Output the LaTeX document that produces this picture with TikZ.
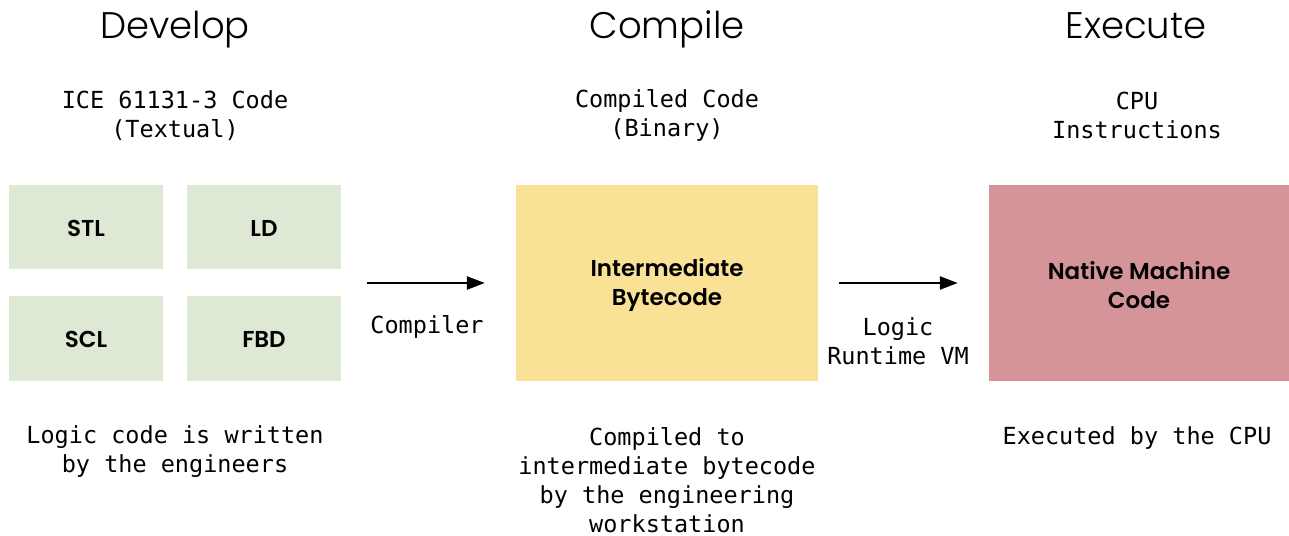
\documentclass[tikz,border=0pt]{standalone}
\usepackage{fontspec}
\setmainfont{Poppins}
\newfontfamily\monof{DejaVu Sans Mono}
\newfontfamily\titlef{Poppins Light}
\newfontfamily\boxf{Poppins SemiBold}
\usetikzlibrary{arrows.meta,fit}
\definecolor{devgreen}{HTML}{DDE8D5}
\definecolor{compyellow}{HTML}{F9E296}
\definecolor{exepink}{HTML}{D49499}
\tikzset{
  x=1pt, y=-1pt,
  title/.style={font=\titlef\fontsize{37}{42}\selectfont, inner sep=0, anchor=base},
  mono/.style={font=\monof\fontsize{23.5}{29}\selectfont, align=center, inner sep=0},
  boxlabel/.style={font=\boxf\fontsize{23}{29}\selectfont, align=center},
  arr/.style={line width=2.5pt, -{Triangle[length=18pt,width=13pt]}},
}
\begin{document}
\begin{tikzpicture}
\useasboundingbox (0,0) rectangle (1289,535);
% titles
\node[title] (t1) at (175,38) {Develop};
\node[title] (t2) at (667,38) {Compile};
\node[title] (t3) at (1136,38) {Execute};
% subtitles
\node[mono] (s1) at (175,115.5) {ICE 61131-3 Code\\(Textual)};
\node[mono] (s2) at (667,115.5) {Compiled Code\\(Binary)};
\node[mono] (s3) at (1137,115.5) {CPU\\Instructions};
% develop boxes
\fill[devgreen] (9,185) rectangle (163,269);
\fill[devgreen] (187,185) rectangle (341,269);
\fill[devgreen] (9,296) rectangle (163,381);
\fill[devgreen] (187,296) rectangle (341,381);
\node[boxlabel] (stl) at (86,228) {STL};
\node[boxlabel] (ld) at (264,228) {LD};
\node[boxlabel] (scl) at (86,339.5) {SCL};
\node[boxlabel] (fbd) at (264,339.5) {FBD};
\coordinate (devtl) at (9,185);
\coordinate (devbr) at (341,381);
\node[fit=(devtl)(devbr), inner sep=0] (dev) {};
% compile box
\node[fill=compyellow, minimum width=302pt, minimum height=196pt, inner sep=0] (ib) at (667,283) {};
\node[boxlabel] (ibl) at (667,285) {Intermediate\\Bytecode};
% execute box
\node[fill=exepink, minimum width=300pt, minimum height=196pt, inner sep=0] (nm) at (1139,283) {};
\node[boxlabel] (nml) at (1139,285) {Native Machine\\Code};
% arrows
\draw[arr, shorten <=26pt, shorten >=31pt] (dev.east) -- (ib.west);
\draw[arr, shorten <=21pt, shorten >=31pt] (ib.east) -- (nm.west);
\node[mono] (cl) at (427,327) {Compiler};
\node[mono] (vl) at (898,341) {Logic\\Runtime VM};
% bottom texts
\node[mono] (b1) at (175,452) {Logic code is written\\by the engineers};
\node[mono] (b2) at (667,480.5) {Compiled to\\intermediate bytecode\\by the engineering\\workstation};
\node[mono] (b3) at (1137,438) {Executed by the CPU};
\end{tikzpicture}
\end{document}
